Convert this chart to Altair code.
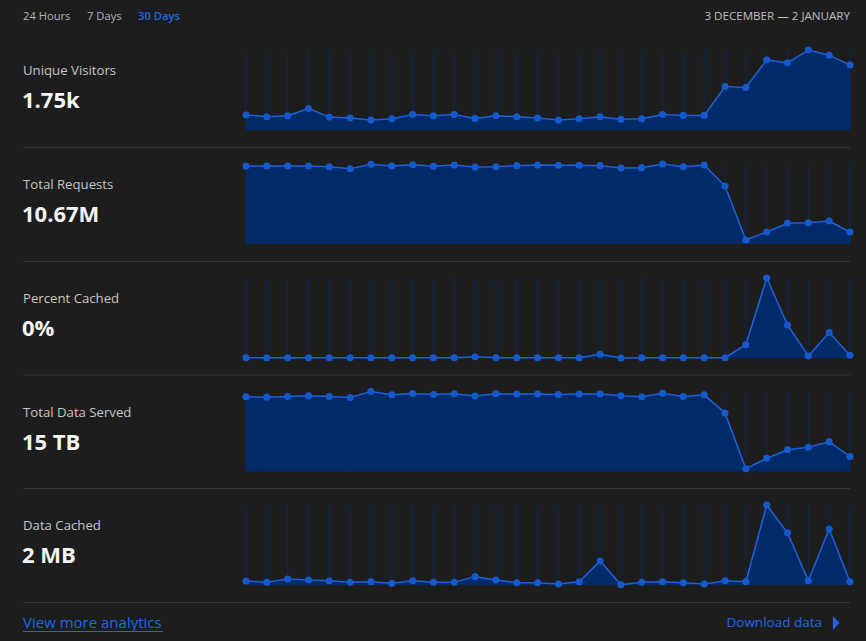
import altair as alt
import pandas as pd

# ---------------- data ----------------
days = [d.strftime("%Y-%m-%d") for d in pd.date_range("2023-12-04", periods=30)]

visitors = [35, 31, 33, 50, 30, 28, 23, 26, 36, 33, 36, 27, 33, 31, 28,
            23, 26, 31, 25, 26, 36, 34, 34, 101, 99, 163, 156, 186, 174, 151]
requests_k = [428, 428, 428, 428, 424, 413, 437, 428, 435, 426, 433, 422, 424, 430, 433,
              432, 432, 430, 417, 419, 439, 424, 433, 318, 22, 66, 114, 117, 126, 66]
pct_cached = [0.0015, 0.0015, 0.0015, 0.0015, 0.0015, 0.0015, 0.0015, 0.0015, 0.0015, 0.0015,
              0.0015, 0.0065, 0.0015, 0.0015, 0.0015, 0.0015, 0.0015, 0.0185, 0.0, 0.0015,
              0.0015, 0.0015, 0.0015, 0.0015, 0.0665, 0.40, 0.165, 0.010, 0.127, 0.0135]
data_served_gb = [583, 580, 585, 590, 585, 577, 624, 598, 608, 601, 606, 588, 606, 604, 604,
                  601, 604, 604, 590, 583, 611, 585, 598, 456, 21, 103, 169, 189, 231, 117]
data_cached_kb = [27, 18, 40, 34, 29, 18, 22, 11, 29, 18, 18, 56, 34, 15, 15,
                  7, 22, 161, 2, 18, 22, 15, 7, 29, 22, 536, 350, 29, 375, 22]

titles = ["Unique Visitors", "Total Requests", "Percent Cached", "Total Data Served", "Data Cached"]
totals = ["1.75k", "10.67M", "0%", "15 TB", "2 MB"]
series = [visitors, requests_k, pct_cached, data_served_gb, data_cached_kb]

ranges = ["24 Hours", "7 Days", "30 Days"]
date_span = "3 DECEMBER \u2014 2 JANUARY"
footer_left = "View more analytics"
footer_right = "Download data"

# ---------------- style ----------------
BG = "#1d1d1d"
FONT = "Open Sans"
AREA = "#002a68"
LINE = "#1d62dc"
DOT = "#1659cc"
GRID = "#0f2447"
SEP = "#353535"
BLUE = "#1f66e5"

X0, X1 = 246, 850
seps = [33, 147, 261, 374.5, 488]
bottom_sep = 602

xscale = alt.Scale(domain=[days[0], days[-1]], range=[X0, X1], nice=False)


def one_row(**kw):
    return alt.Data(values=[kw])


layers = []

# header
hdr_x = [23, 87, 138]
for i, (lab, hx) in enumerate(zip(ranges, hdr_x)):
    active = i == 2
    layers.append(
        alt.Chart(one_row(t=lab)).mark_text(
            align="left", baseline="middle", font=FONT, fontSize=11.2,
            fontWeight=600 if active else 400,
            color=BLUE if active else "#b4b4b4",
        ).encode(x=alt.value(hx), y=alt.value(17), text="t:N")
    )
layers.append(
    alt.Chart(one_row(t=date_span)).mark_text(
        align="right", baseline="middle", font=FONT, fontSize=11.6, color="#bdbdbd"
    ).encode(x=alt.value(850), y=alt.value(17), text="t:N")
)

panels = []
for k, (title, total, vals) in enumerate(zip(titles, totals, series)):
    top = seps[k] + 17
    bot = seps[k] + 97
    df = pd.DataFrame({"day": days, "value": vals})
    yscale = alt.Scale(domain=[0, max(vals)], range=[bot, top], nice=False, zero=True)
    base = alt.Chart(df)
    grid = base.mark_rule(color=GRID, strokeWidth=1.5).encode(
        x=alt.X("day:T", scale=xscale, axis=None),
        y=alt.value(top), y2=alt.value(bot),
    )
    area = base.mark_area(color=AREA, opacity=1).encode(
        x=alt.X("day:T", scale=xscale, axis=None),
        y=alt.Y("value:Q", scale=yscale, axis=None),
    )
    line = base.mark_line(color=LINE, strokeWidth=1.5).encode(
        x=alt.X("day:T", scale=xscale, axis=None),
        y=alt.Y("value:Q", scale=yscale, axis=None),
    )
    dots = base.mark_circle(color=DOT, size=50, opacity=1).encode(
        x=alt.X("day:T", scale=xscale, axis=None),
        y=alt.Y("value:Q", scale=yscale, axis=None),
    )
    panels.append(alt.layer(grid, area, line, dots))

    layers.append(
        alt.Chart(one_row(t=title)).mark_text(
            align="left", baseline="middle", font=FONT, fontSize=13.2, color="#c6c6c6"
        ).encode(x=alt.value(23), y=alt.value(seps[k] + 38), text="t:N")
    )
    layers.append(
        alt.Chart(one_row(t=total)).mark_text(
            align="left", baseline="middle", font=FONT, fontSize=22, fontWeight="bold",
            color="#f4f4f4"
        ).encode(x=alt.value(22), y=alt.value(seps[k] + 68), text="t:N")
    )

# separators
for sy in seps[1:] + [bottom_sep]:
    layers.append(
        alt.Chart(one_row(a=1)).mark_rule(color=SEP, strokeWidth=1).encode(
            x=alt.value(23), x2=alt.value(850), y=alt.value(sy + 0.5)
        )
    )

# footer
layers.append(
    alt.Chart(one_row(t=footer_left)).mark_text(
        align="left", baseline="middle", font=FONT, fontSize=15, color=BLUE
    ).encode(x=alt.value(23), y=alt.value(623), text="t:N")
)
layers.append(
    alt.Chart(one_row(a=1)).mark_rule(color=BLUE, strokeWidth=1).encode(
        x=alt.value(23), x2=alt.value(163), y=alt.value(631.5)
    )
)
layers.append(
    alt.Chart(one_row(t=footer_right)).mark_text(
        align="right", baseline="middle", font=FONT, fontSize=13.5, color=BLUE
    ).encode(x=alt.value(822), y=alt.value(623), text="t:N")
)
layers.append(
    alt.Chart(one_row(a=1)).mark_point(
        shape="M-0.45,-1L0.5,0L-0.45,1Z", filled=True, size=196, color=BLUE, opacity=1
    ).encode(x=alt.value(836), y=alt.value(623))
)

chart = alt.layer(*panels, *layers).resolve_scale(y="independent").properties(
    width=866, height=641,
    autosize=alt.AutoSizeParams(type="none"),
    padding=0,
    background=BG,
).configure_view(stroke=None)

chart.save("out.html", embed_options={"renderer": "svg", "actions": False})
